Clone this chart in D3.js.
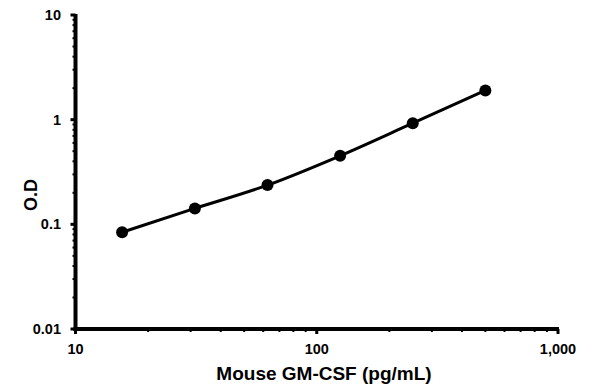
<!DOCTYPE html>
<html><head><meta charset="utf-8">
<script src="https://cdn.jsdelivr.net/npm/d3@7"></script>
<style>body{margin:0;background:#fff}svg{display:block}</style>
</head><body>
<svg id="c" width="595" height="391"></svg>
<script>
const concentrations = [15.6, 31.25, 62.5, 125, 250, 500];
const odValues = [0.084, 0.142, 0.237, 0.452, 0.925, 1.9];
const xTickValues = [10, 100, 1000];
const xTickLabels = ["10", "100", "1,000"];
const yTickValues = [0.01, 0.1, 1, 10];
const yTickLabels = ["0.01", "0.1", "1", "10"];
const xTitle = "Mouse GM-CSF (pg/mL)";
const yTitle = "O.D";

const svg = d3.select("#c");
const x = d3.scaleLog().domain([10, 1000]).range([75.5, 558]);
const y = d3.scaleLog().domain([0.01, 10]).range([329, 15]);
const font = "'Liberation Sans', Arial, sans-serif";

// minor ticks
const xMinor = [];
for (let d = 10; d < 1000; d *= 10) for (let k = 2; k <= 9; k++) xMinor.push(d * k);
const yMinor = [];
for (let d = 0.01; d < 10; d *= 10) for (let k = 2; k <= 9; k++) yMinor.push(+(d * k).toPrecision(3));

svg.append("g").selectAll("line").data(xMinor).join("line")
  .attr("x1", d => x(d)).attr("x2", d => x(d)).attr("y1", 329).attr("y2", 332)
  .attr("stroke", "#000").attr("stroke-width", 2);
svg.append("g").selectAll("line").data(yMinor).join("line")
  .attr("y1", d => y(d)).attr("y2", d => y(d)).attr("x1", 75.5).attr("x2", 72.5)
  .attr("stroke", "#000").attr("stroke-width", 2);

// major ticks
svg.append("g").selectAll("line").data(xTickValues).join("line")
  .attr("x1", d => x(d)).attr("x2", d => x(d)).attr("y1", 329).attr("y2", 334)
  .attr("stroke", "#000").attr("stroke-width", 3);
svg.append("g").selectAll("line").data(yTickValues).join("line")
  .attr("y1", d => y(d)).attr("y2", d => y(d)).attr("x1", 75.5).attr("x2", 70.5)
  .attr("stroke", "#000").attr("stroke-width", 3);

// axes lines
svg.append("line").attr("x1", 75.5).attr("x2", 75.5).attr("y1", 14).attr("y2", 331)
  .attr("stroke", "#000").attr("stroke-width", 4);
svg.append("line").attr("x1", 73.5).attr("x2", 559).attr("y1", 329).attr("y2", 329)
  .attr("stroke", "#000").attr("stroke-width", 4);

// tick labels
svg.append("g").selectAll("text").data(xTickValues).join("text")
  .attr("x", d => x(d)).attr("y", 354).attr("text-anchor", "middle")
  .attr("font-family", font).attr("font-weight", "bold").attr("font-size", 14.5)
  .text((d, i) => xTickLabels[i]);
svg.append("g").selectAll("text").data(yTickValues).join("text")
  .attr("x", 61).attr("y", d => y(d) + 5).attr("text-anchor", "end")
  .attr("font-family", font).attr("font-weight", "bold").attr("font-size", 14.5)
  .text((d, i) => yTickLabels[i]);

// titles
svg.append("text").attr("x", 324).attr("y", 380).attr("text-anchor", "middle")
  .attr("font-family", font).attr("font-weight", "bold").attr("font-size", 19)
  .text(xTitle);
svg.append("text").attr("transform", "translate(37,195) rotate(-90)").attr("text-anchor", "middle")
  .attr("font-family", font).attr("font-weight", "bold").attr("font-size", 18)
  .text(yTitle);

const data = concentrations.map((c, i) => ({c, v: odValues[i]}));
svg.append("path").datum(data)
  .attr("d", d3.line().x(d => x(d.c)).y(d => y(d.v)).curve(d3.curveMonotoneX))
  .attr("fill", "none").attr("stroke", "#000").attr("stroke-width", 3);
svg.append("g").selectAll("circle").data(data).join("circle")
  .attr("cx", d => x(d.c)).attr("cy", d => y(d.v)).attr("r", 6).attr("fill", "#000");
</script>
</body></html>
